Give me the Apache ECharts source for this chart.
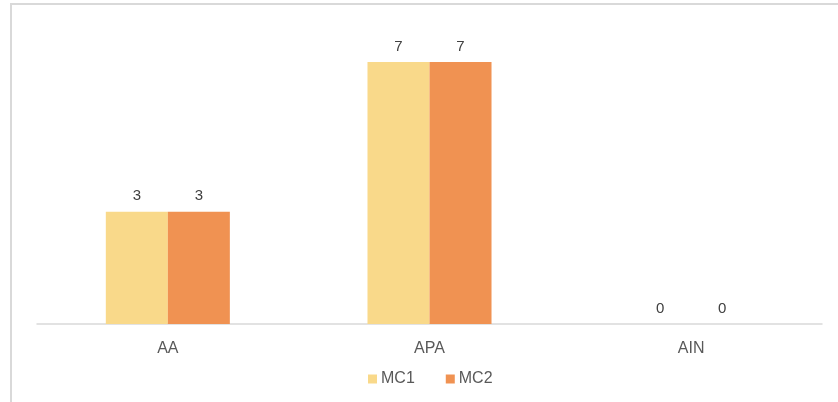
<!DOCTYPE html>
<html>
<head>
<meta charset="utf-8">
<script src="https://cdn.jsdelivr.net/npm/echarts@6/dist/echarts.min.js"></script>
<style>
  html, body { margin: 0; padding: 0; background: #ffffff; }
  #chart { width: 838px; height: 402px; }
</style>
</head>
<body>
<div id="chart"></div>
<script>
// Categories and per-series counts
const categories = ['AA', 'APA', 'AIN'];
const seriesNames = ['MC1', 'MC2'];
const mc1Values = [3, 7, 0];
const mc2Values = [3, 7, 0];
const seriesColors = ['#F9D98A', '#F09252'];

const chart = echarts.init(document.getElementById('chart'), null, { renderer: 'canvas' });

const labelStyle = {
  show: true,
  position: 'top',
  distance: 8,
  color: '#404040',
  fontFamily: 'Liberation Sans, Arial, sans-serif',
  fontSize: 15
};

chart.setOption({
  animation: false,
  backgroundColor: '#ffffff',
  graphic: [{
    type: 'rect',
    shape: { x: 11, y: 4, width: 840, height: 410 },
    style: { fill: 'none', stroke: '#D9D9D9', lineWidth: 2 },
    silent: true,
    z: -1
  }],
  grid: { left: 37, right: 16, top: 24.6, bottom: 78, containLabel: false },
  legend: {
    bottom: 10,
    left: 363,
    itemWidth: 9,
    itemHeight: 9,
    itemGap: 31,
    icon: 'rect',
    textStyle: {
      color: '#595959',
      fontFamily: 'Liberation Sans, Arial, sans-serif',
      fontSize: 16,
      padding: [0, 0, 0, -1]
    },
    data: seriesNames
  },
  xAxis: {
    type: 'category',
    data: categories,
    axisLine: { lineStyle: { color: '#D9D9D9', width: 1.5 } },
    axisTick: { show: false },
    axisLabel: {
      color: '#595959',
      fontFamily: 'Liberation Sans, Arial, sans-serif',
      fontSize: 16,
      margin: 17
    }
  },
  yAxis: {
    type: 'value',
    min: 0,
    max: 8,
    show: false,
    splitLine: { show: false }
  },
  series: [
    {
      name: seriesNames[0],
      type: 'bar',
      data: mc1Values,
      itemStyle: { color: seriesColors[0] },
      barGap: '0%',
      barCategoryGap: '52.6%',
      label: labelStyle
    },
    {
      name: seriesNames[1],
      type: 'bar',
      data: mc2Values,
      itemStyle: { color: seriesColors[1] },
      barGap: '0%',
      barCategoryGap: '52.6%',
      label: labelStyle
    }
  ]
});
</script>
</body>
</html>
